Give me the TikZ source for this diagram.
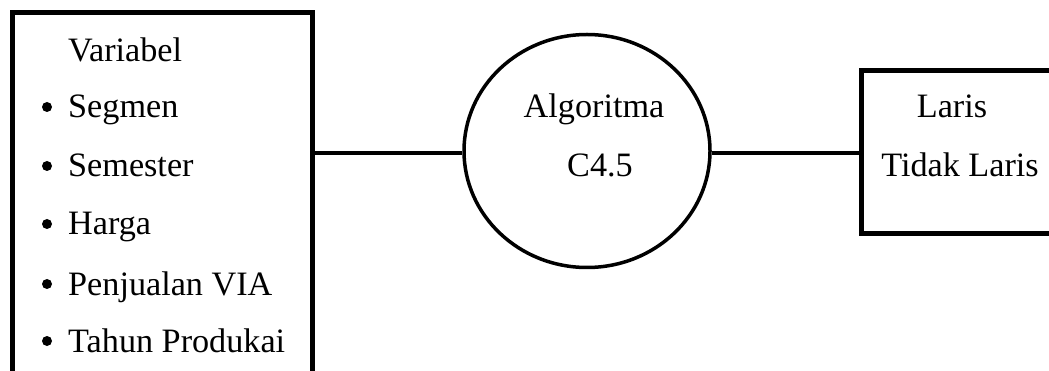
\documentclass[tikz,border=0pt]{standalone}
\usepackage{fontspec}
\setmainfont{Liberation Serif}
\usetikzlibrary{shapes.geometric}
\begin{document}
\begin{tikzpicture}[x=1pt,y=-1pt,
  txt/.style={inner sep=0pt,anchor=base west,font=\fontsize{34.2}{40}\selectfont},
  ctxt/.style={inner sep=0pt,anchor=base,font=\fontsize{34.2}{40}\selectfont},
  bul/.style={circle,fill=black,inner sep=0pt,minimum size=10pt},
  boxs/.style={draw,line width=5pt,inner sep=0pt},
  conn/.style={line width=4pt}]
\useasboundingbox (0,0) rectangle (1049,371);
\clip (0,0) rectangle (1049,371);
% left box
\node[boxs,minimum width=300pt,minimum height=370pt] (leftbox) at (162.5,197.5) {};
\node[txt] (var) at (68,62) {Variabel};
\node[bul] (b1) at (47,107) {};
\node[txt] (t1) at (68,118) {Segmen};
\node[bul] (b2) at (47,166) {};
\node[txt] (t2) at (68,177) {Semester};
\node[bul] (b3) at (47,224) {};
\node[txt] (t3) at (68,235) {Harga};
\node[bul] (b4) at (47,284) {};
\node[txt] (t4) at (68,295) {Penjualan VIA};
\node[bul] (b5) at (47,341) {};
\node[txt] (t5) at (68,352) {Tahun Produkai};
% circle
\node[draw,ellipse,line width=3.5pt,minimum width=246pt,minimum height=233pt,inner sep=0pt] (alg) at (587,151) {};
\node[ctxt] (a1) at (594,118) {Algoritma};
\node[ctxt] (a2) at (600,177) {C4.5};
% right box
\node[boxs,minimum width=210pt,minimum height=163pt] (rightbox) at (966,152.5) {};
\node[ctxt] (r1) at (952,118) {Laris};
\node[ctxt] (r2) at (960,177) {Tidak Laris};
% connectors
\coordinate (c1) at (0,153);
\draw[conn] (leftbox.east |- c1) -- (alg.west |- c1);
\draw[conn] (alg.east |- c1) -- (rightbox.west |- c1);
\end{tikzpicture}
\end{document}
